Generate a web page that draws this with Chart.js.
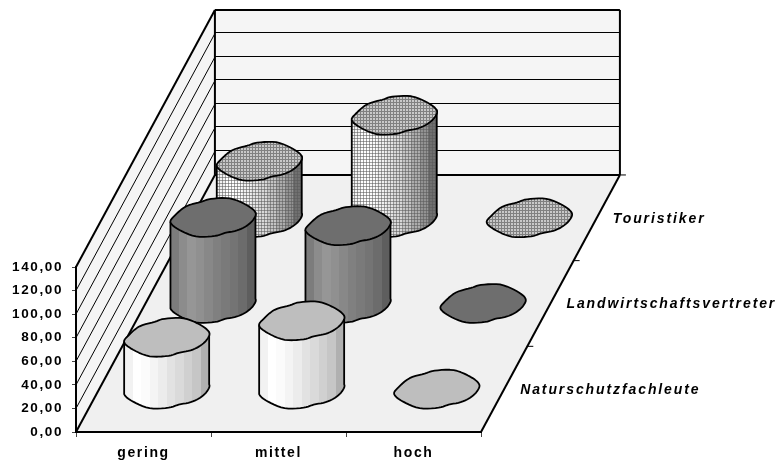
<!DOCTYPE html>
<html>
<head>
<meta charset="utf-8">
<style>
    html, body { margin:0; padding:0; background:#fff; }
    canvas { display:block; }
</style>
<script src="https://cdn.jsdelivr.net/npm/chart.js@4"></script>
</head>
<body>
<canvas id="chart" width="778" height="463"></canvas>
<script>
const categories = ['gering', 'mittel', 'hoch'];
const seriesNames = ['Naturschutzfachleute', 'Landwirtschaftsvertreter', 'Touristiker'];
const naturschutz = [44, 58, 0];
const landwirtschaft = [73, 66, 0];
const touristiker = [48, 87, 0];
const yTicks = [0, 20, 40, 60, 80, 100, 120, 140];

// oblique projection: one row back = this many categories right / value units up
const ROW_X = 0.343;
const ROW_Y = 72.7;

// slightly bumpy cap outline as the old 3D renderer drew it, px from centre
const CAP_POINTS = [[-42.5,5],[-38,-2],[-27,-11],[-12,-15.5],[-2,-18.5],[17,-19],[33.5,-12.5],[42.5,-5],
                    [40.5,2],[33.5,8.5],[24,13],[12,15.5],[2,18.5],[-17,19],[-33.5,12.5]];
const CAP_RIGHT = 7;   // index of the rightmost point
const SUBDIV = 5;

// catmull-rom through the outline so the caps are not so angular
const CAP = [];
CAP_POINTS.forEach((p, i) => {
    const n = CAP_POINTS.length;
    const a = CAP_POINTS[(i - 1 + n) % n], b = CAP_POINTS[(i + 1) % n], c = CAP_POINTS[(i + 2) % n];
    for (let s = 0; s < SUBDIV; s++) {
        const t = s / SUBDIV;
        const f = k => 0.5 * (2 * p[k] + (b[k] - a[k]) * t + (2 * a[k] - 5 * p[k] + 4 * b[k] - c[k]) * t * t + (3 * p[k] - a[k] - 3 * b[k] + c[k]) * t * t * t);
        CAP.push([f(0), f(1)]);
    }
});

const looks = [
    { top:'#bebebe', sides:['#f2f2f2','#ffffff','#fbfbfb','#f4f4f4','#ececec','#e2e2e2','#dadada','#d0d0d0','#c6c6c6','#b0b0b0'], grid:false },
    { top:'#6e6e6e', sides:['#7c7c7c','#8c8c8c','#969696','#909090','#888888','#808080','#7a7a7a','#747474','#6c6c6c','#5e5e5e'], grid:false },
    { top:'#b8b8b8', sides:['#f2f2f2','#ffffff','#fbfbfb','#f0f0f0','#e4e4e4','#d8d8d8','#c4c4c4','#acacac','#929292','#707070'], grid:true }
];

function gridPattern(ctx, lineColor, bg) {
    const c = document.createElement('canvas');
    c.width = 3; c.height = 3;
    const g = c.getContext('2d');
    if (bg) { g.fillStyle = bg; g.fillRect(0, 0, 3, 3); }
    g.fillStyle = lineColor;
    g.fillRect(0, 0, 3, 1);
    g.fillRect(0, 0, 1, 3);
    return ctx.createPattern(c, 'repeat');
}

const scene = {
    id: 'scene',
    beforeUpdate(chart) {
        chart.ctx.letterSpacing = '1.6px';
    },
    beforeDatasetsDraw(chart) {
        const { ctx, scales: { x, y } } = chart;
        // row -0.5 is the front floor edge
        const P = (cat, row, val) => [x.getPixelForValue(cat + ROW_X * (row + 0.5)), y.getPixelForValue(val + ROW_Y * (row + 0.5))];
        const L = -0.5, R = categories.length - 0.5;          // category edges
        const F = -0.5, B = seriesNames.length - 0.5;         // row edges
        const top = yTicks[yTicks.length - 1];
        const poly = (pts, fill) => {
            ctx.beginPath();
            pts.forEach((p, i) => i ? ctx.lineTo(p[0], p[1]) : ctx.moveTo(p[0], p[1]));
            ctx.closePath();
            ctx.fillStyle = fill;
            ctx.fill();
        };
        const line = (a, b, w) => {
            ctx.beginPath();
            ctx.moveTo(a[0], a[1]);
            ctx.lineTo(b[0], b[1]);
            ctx.lineWidth = w;
            ctx.strokeStyle = '#000';
            ctx.stroke();
        };

        ctx.save();
        // walls and floor
        poly([P(L,F,0), P(L,B,0), P(L,B,top), P(L,F,top)], '#f5f5f5');
        poly([P(L,B,0), P(R,B,0), P(R,B,top), P(L,B,top)], '#f5f5f5');
        poly([P(L,F,0), P(R,F,0), P(R,B,0), P(L,B,0)], '#f0f0f0');
        yTicks.slice(1, -1).forEach(v => {
            const a = P(L,B,v), b = P(R,B,v);
            const py = Math.floor(a[1]) - 0.5;   // keep the thin wall lines crisp
            line(P(L,F,v), a, 1);
            line([a[0], py], [b[0], py], 1);
        });
        line(P(L,B,top), P(R,B,top), 2);
        line(P(L,F,top), P(L,B,top), 2);
        line(P(L,B,0), P(L,B,top), 2);
        line(P(R,B,0), P(R,B,top), 2);
        line(P(L,B,0), P(R,B,0), 2);
        line(P(L,F,0), P(L,B,0), 2);
        line(P(R,F,0), P(R,B,0), 2);

        // ticks along the right floor edge
        for (let r = F + 1; r <= B; r++) {
            const p = P(R, r, 0);
            line(p, [p[0] + 6, p[1]], 1);
        }

        // cylinders, back row first
        const capPat = gridPattern(ctx, '#808080', '#c8c8c8');
        const sidePat = gridPattern(ctx, 'rgba(90,90,90,0.55)');
        for (let row = seriesNames.length - 1; row >= 0; row--) {
            const look = looks[row];
            chart.data.datasets[row].data.forEach((val, cat) => {
                const [cx, base] = P(cat, row, 0);
                const cy = P(cat, row, val)[1];
                const h = base - cy;
                ctx.lineWidth = 1.8;
                ctx.lineJoin = 'round';
                ctx.strokeStyle = '#000';
                if (h > 0) {
                    ctx.beginPath();
                    ctx.moveTo(cx + CAP[0][0], cy + CAP[0][1]);
                    ctx.lineTo(cx + CAP[0][0], base + CAP[0][1]);
                    for (let i = CAP.length - 1; i >= CAP_RIGHT * SUBDIV; i--) ctx.lineTo(cx + CAP[i][0], base + CAP[i][1]);
                    ctx.lineTo(cx + CAP[CAP_RIGHT * SUBDIV][0], cy + CAP[CAP_RIGHT * SUBDIV][1]);
                    ctx.closePath();
                    const grad = ctx.createLinearGradient(cx - 42.5, 0, cx + 42.5, 0);
                    look.sides.forEach((c, i) => {
                        grad.addColorStop(i / look.sides.length, c);
                        grad.addColorStop((i + 1) / look.sides.length, c);
                    });
                    ctx.fillStyle = grad;
                    ctx.fill();
                    if (look.grid) { ctx.fillStyle = sidePat; ctx.fill(); }
                    ctx.stroke();
                }
                ctx.beginPath();
                CAP.forEach((p, i) => i ? ctx.lineTo(cx + p[0], cy + p[1]) : ctx.moveTo(cx + p[0], cy + p[1]));
                ctx.closePath();
                ctx.fillStyle = look.grid ? capPat : look.top;
                ctx.fill();
                ctx.stroke();
            });
        }

        // row names right of the floor
        ctx.fillStyle = '#000';
        ctx.font = 'italic bold 14px "Liberation Sans"';
        ctx.letterSpacing = '1.9px';
        ctx.textAlign = 'left';
        ctx.textBaseline = 'middle';
        seriesNames.forEach((name, row) => {
            const p = P(R, row, 0);
            ctx.fillText(name, p[0] + 16, p[1] + 1);
        });
        ctx.restore();
    }
};

new Chart(document.getElementById('chart'), {
    type: 'bar',
    data: {
        labels: categories,
        datasets: [
            { label: seriesNames[0], data: naturschutz, backgroundColor: 'transparent' },
            { label: seriesNames[1], data: landwirtschaft, backgroundColor: 'transparent' },
            { label: seriesNames[2], data: touristiker, backgroundColor: 'transparent' }
        ]
    },
    options: {
        responsive: false,
        animation: false,
        layout: { padding: { left: 0, top: 267, right: 297, bottom: 0 } },
        plugins: { legend: { display: false }, tooltip: { enabled: false } },
        scales: {
            x: {
                type: 'category',
                offset: true,
                afterFit: s => { s.height = 31; },
                border: { color: '#000', width: 2, z: 1 },
                grid: { drawOnChartArea: false, tickLength: 5, tickColor: '#444', offset: true },
                ticks: { color: '#000', padding: 8, maxRotation: 0, font: { family: '"Liberation Sans"', size: 14, weight: 'bold' } }
            },
            y: {
                min: 0,
                max: 140,
                afterFit: s => { s.width = 76; },
                afterBuildTicks: s => { s.ticks = yTicks.map(v => ({ value: v })); },
                border: { color: '#000', width: 2, z: 1 },
                grid: { drawOnChartArea: false, tickLength: 4, tickColor: '#444' },
                ticks: {
                    color: '#000',
                    padding: 9,
                    font: { family: '"Liberation Sans"', size: 13.5, weight: 'bold' },
                    callback: v => v.toFixed(2).replace('.', ',')
                }
            }
        }
    },
    plugins: [scene]
});
</script>
</body>
</html>
